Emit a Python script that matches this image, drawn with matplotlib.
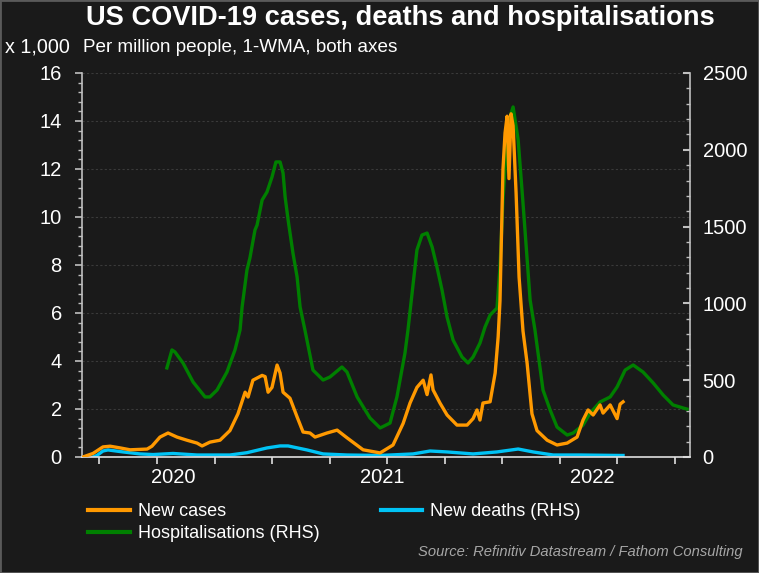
import matplotlib
matplotlib.use("Agg")
import matplotlib.pyplot as plt
from matplotlib.ticker import MultipleLocator, FixedLocator
from matplotlib.patches import Rectangle

plt.rcParams['font.family'] = ['Liberation Sans', 'DejaVu Sans']

# ---------------- data (x in decimal years) ----------------
cases_x = [2020.178, 2020.222, 2020.265, 2020.296, 2020.339, 2020.383, 2020.457, 2020.478,
           2020.513, 2020.548, 2020.587, 2020.630, 2020.674, 2020.696, 2020.730, 2020.774,
           2020.817, 2020.852, 2020.883, 2020.896, 2020.917, 2020.957, 2020.970, 2020.983,
           2021.000, 2021.022, 2021.035, 2021.048, 2021.078, 2021.109, 2021.135, 2021.165,
           2021.187, 2021.239, 2021.283, 2021.326, 2021.396, 2021.470, 2021.526, 2021.570,
           2021.600, 2021.630, 2021.657, 2021.674, 2021.691, 2021.700, 2021.730, 2021.761,
           2021.804, 2021.848, 2021.874, 2021.891, 2021.904, 2021.917, 2021.948, 2021.970,
           2021.983, 2021.991, 2022.004, 2022.013, 2022.022, 2022.030, 2022.039, 2022.048,
           2022.061, 2022.074, 2022.091, 2022.109, 2022.130, 2022.152, 2022.196, 2022.239,
           2022.283, 2022.326, 2022.352, 2022.374, 2022.396, 2022.426, 2022.439, 2022.470,
           2022.500, 2022.513, 2022.526]
cases = [0.0, 0.15, 0.42, 0.45, 0.38, 0.30, 0.33, 0.45,
         0.83, 1.00, 0.83, 0.70, 0.58, 0.46, 0.62, 0.70,
         1.10, 1.80, 2.70, 2.50, 3.20, 3.40, 3.35, 2.70,
         2.90, 3.83, 3.50, 2.70, 2.45, 1.67, 1.04, 1.00,
         0.83, 1.00, 1.12, 0.80, 0.30, 0.17, 0.50, 1.40,
         2.25, 2.90, 3.20, 2.60, 3.42, 2.80, 2.25, 1.75,
         1.33, 1.33, 1.60, 1.96, 1.54, 2.25, 2.30, 3.50,
         5.00, 6.50, 12.0, 13.5, 14.2, 11.6, 14.3, 13.8,
         11.0, 7.50, 5.25, 3.90, 1.80, 1.10, 0.70, 0.50,
         0.58, 0.83, 1.54, 1.96, 1.75, 2.17, 1.83, 2.17,
         1.60, 2.20, 2.30]

hosp_x = [2020.543, 2020.565, 2020.578, 2020.613, 2020.657, 2020.709, 2020.730, 2020.761,
          2020.804, 2020.839, 2020.861, 2020.870, 2020.891, 2020.904, 2020.926, 2020.935,
          2020.957, 2020.978, 2021.000, 2021.017, 2021.035, 2021.048, 2021.057, 2021.070,
          2021.091, 2021.109, 2021.122, 2021.143, 2021.178, 2021.222, 2021.252, 2021.304,
          2021.326, 2021.370, 2021.426, 2021.470, 2021.513, 2021.543, 2021.570, 2021.578,
          2021.591, 2021.609, 2021.630, 2021.652, 2021.674, 2021.696, 2021.717, 2021.739,
          2021.761, 2021.787, 2021.826, 2021.852, 2021.874, 2021.904, 2021.926, 2021.948,
          2021.978, 2021.991, 2022.004, 2022.026, 2022.048, 2022.070, 2022.091, 2022.122,
          2022.143, 2022.178, 2022.209, 2022.239, 2022.283, 2022.309, 2022.352, 2022.383,
          2022.426, 2022.470, 2022.500, 2022.535, 2022.570, 2022.613, 2022.657, 2022.700,
          2022.743, 2022.787, 2022.804]
hosp = [580, 697, 684, 612, 488, 391, 391, 436,
        553, 697, 827, 977, 1217, 1296, 1478, 1510,
        1673, 1725, 1823, 1921, 1921, 1849, 1693, 1543,
        1328, 1172, 977, 827, 566, 501, 521, 586,
        553, 391, 254, 189, 221, 391, 612, 677,
        827, 1068, 1348, 1445, 1458, 1367, 1237, 1087,
        911, 762, 651, 612, 651, 742, 846, 924,
        970, 1237, 1673, 2174, 2279, 2064, 1654, 1022,
        827, 436, 306, 195, 143, 156, 208, 286,
        358, 391, 456, 566, 599, 553, 482, 404,
        339, 319, 312]

deaths_x = [2020.222, 2020.239, 2020.265, 2020.287, 2020.352, 2020.426, 2020.483, 2020.570,
            2020.674, 2020.817, 2020.891, 2020.978, 2021.035, 2021.070, 2021.152, 2021.222,
            2021.326, 2021.470, 2021.613, 2021.687, 2021.761, 2021.874, 2021.978, 2022.070,
            2022.135, 2022.222, 2022.339, 2022.513, 2022.526]
deaths = [0, 10, 39, 46, 33, 20, 16, 23,
          13, 13, 28, 59, 72, 72, 46, 20,
          13, 10, 20, 39, 33, 20, 33, 52,
          33, 13, 13, 10, 10]

year_labels = ['2020', '2021', '2022']
year_label_pos = [2020.570, 2021.478, 2022.391]

# ---------------- style ----------------
BG = '#1a1a1a'
FG = '#ffffff'
ORANGE = '#ff9900'
GREEN = '#008000'
BLUE = '#00c3f5'

fig = plt.figure(figsize=(7.59, 5.73), dpi=100, facecolor=BG)
ax = fig.add_axes([82/759, 1-457/573, (690-82)/759, (457-73)/573], facecolor=BG)
ax2 = ax.twinx()

ax.plot(cases_x, cases, color=ORANGE, lw=2.4, label='New cases', zorder=3)
ax2.plot(hosp_x, hosp, color=GREEN, lw=2.4, label='Hospitalisations (RHS)', zorder=2)
ax2.plot(deaths_x, deaths, color=BLUE, lw=2.4, label='New deaths (RHS)', zorder=2)
ax.set_zorder(ax2.get_zorder() + 1)
ax.patch.set_visible(False)
ax2.patch.set_visible(True)
ax2.patch.set_facecolor(BG)

ax.set_xlim(2020.174, 2022.817)
ax.set_ylim(0, 16)
ax2.set_ylim(0, 2500)

# grid
for v in range(2, 17, 2):
    ax2.axhline(v * 2500 / 16, color='#3a3a3a', lw=0.8, ls=(0, (2, 2)), zorder=0)

# spines
for a in (ax, ax2):
    a.spines['top'].set_visible(False)
ax.spines['left'].set_color('#bfbfbf')
ax.spines['left'].set_linewidth(1.2)
ax.spines['bottom'].set_color('#e0e0e0')
ax.spines['bottom'].set_linewidth(1.2)
ax.spines['right'].set_visible(False)
ax2.spines['right'].set_color('#bfbfbf')
ax2.spines['right'].set_linewidth(1.2)
ax2.spines['left'].set_visible(False)
ax2.spines['bottom'].set_visible(False)

# left y ticks
ax.yaxis.set_major_locator(MultipleLocator(2))
ax.yaxis.set_minor_locator(MultipleLocator(0.4))
ax.tick_params(axis='y', which='major', direction='out', length=5, width=1.2,
               color='#bfbfbf', labelcolor=FG, labelsize=14.5, pad=9.5)
ax.tick_params(axis='y', which='minor', direction='out', length=3, width=1, color='#bfbfbf')

# right y ticks
ax2.yaxis.set_major_locator(MultipleLocator(500))
ax2.yaxis.set_minor_locator(MultipleLocator(100))
ax2.tick_params(axis='y', which='major', direction='in', length=5, width=1.5,
                color='#bfbfbf', labelcolor=FG, labelsize=14.5, pad=9)
ax2.tick_params(axis='y', which='minor', direction='in', length=3, width=1, color='#bfbfbf')

# x ticks: quarters (unlabelled), year labels as minor ticks
ax.xaxis.set_major_locator(FixedLocator([2020.25, 2020.5, 2020.75, 2021.0, 2021.25, 2021.5,
                                         2021.75, 2022.0, 2022.25, 2022.5, 2022.75]))
ax.xaxis.set_major_formatter(plt.NullFormatter())
ax.set_xticks(year_label_pos, year_labels, minor=True)
ax.tick_params(axis='x', which='major', direction='out', length=5, width=1.2, color='#e0e0e0')
ax.tick_params(axis='x', which='minor', length=0, labelcolor=FG, labelsize=14.5, pad=8)
ax2.tick_params(axis='x', which='both', length=0)

# texts
fig.text(0.527, 1-18/573, 'US COVID-19 cases, deaths and hospitalisations', ha='center',
         va='center', color=FG, fontsize=19.6, fontweight='bold')
fig.text(5/759, 1-47/573, 'x 1,000', ha='left', va='center', color=FG, fontsize=14.2)
fig.text(83/759, 1-48/573, 'Per million people, 1-WMA, both axes', ha='left', va='center',
         color=FG, fontsize=13.6)
fig.text(743/759, 1-552/573, 'Source: Refinitiv Datastream / Fathom Consulting', ha='right',
         va='center', color='#a6a6a6', fontsize=10.6, style='italic')

# legend
h1, l1 = ax.get_legend_handles_labels()
h2, l2 = ax2.get_legend_handles_labels()
handles = [h1[0], h2[0], h2[1]]
labels = [l1[0], l2[0], l2[1]]
leg = fig.legend(handles, labels, ncol=2, loc='upper left', bbox_to_anchor=(88/759, 1-503/573),
                 frameon=False, fontsize=13, labelcolor=FG, handlelength=2.3,
                 handletextpad=0.45, columnspacing=3.4, labelspacing=0.3, borderaxespad=0,
                 borderpad=0)
for line in leg.get_lines():
    line.set_linewidth(3)

fig.patches.append(Rectangle((0, 0), 1, 1, transform=fig.transFigure, fill=False,
                             edgecolor='#5a5a5a', lw=2))

fig.savefig('out.png', dpi=100, facecolor=BG)
